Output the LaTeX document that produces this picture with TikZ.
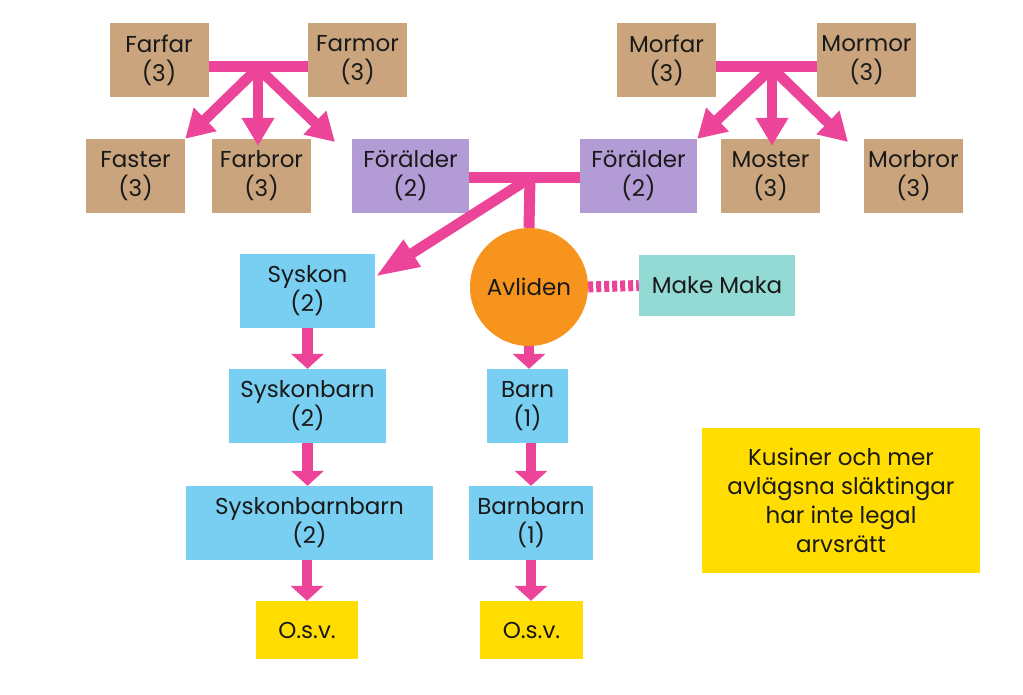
\documentclass[tikz,border=0pt]{standalone}
\usepackage{fontspec}
\setmainfont{Poppins}
\usepackage{tikz}
\usetikzlibrary{arrows.meta,positioning,calc}
\definecolor{Rosa}{HTML}{EC4499}
\definecolor{Brun}{HTML}{C9A47C}
\definecolor{Lila}{HTML}{B39BD6}
\definecolor{Ljusbla}{HTML}{79CFF2}
\definecolor{Apelsin}{HTML}{F7941D}
\definecolor{Turkos}{HTML}{92DAD3}
\definecolor{Gul}{HTML}{FFDD00}

\begin{document}
\begin{tikzpicture}[x=1pt,y=-1pt,
    ruta/.style={inner sep=0pt,align=center,text=black!90,
        font=\fontsize{23}{29}\selectfont,minimum height=74pt},
    brun/.style={ruta,fill=Brun,minimum width=99pt},
    lila/.style={ruta,fill=Lila,minimum width=117pt},
    bla/.style={ruta,fill=Ljusbla},
    gul/.style={ruta,fill=Gul},
    band/.style={Rosa,line width=11pt},
    pil/.style={Rosa,line width=10.5pt,-{Triangle[length=28pt,width=31pt]}},
    langpil/.style={Rosa,line width=10.5pt,-{Triangle[length=44pt,width=29pt]}},
    kortpil/.style={Rosa,line width=10.5pt,-{Triangle[length=15pt,width=32pt]}}]
    \path[fill=white] (0,0) rectangle (1023,694);

    % farsidan
    \node[brun] (farfar) at (159,60) {Farfar\\(3)};
    \node[brun] (farmor) at (357.5,60) {Farmor\\(3)};
    \node[brun] (faster) at (135.5,176) {Faster\\(3)};
    \node[brun] (farbror) at (261.5,176) {Farbror\\(3)};
    % morsidan
    \node[brun] (morfar) at (666.5,60) {Morfar\\(3)};
    \node[brun] (mormor) at (866.5,60) {Mormor\\(3)};
    \node[brun] (moster) at (770.5,176) {Moster\\(3)};
    \node[brun] (morbror) at (913.5,176) {Morbror\\(3)};
    % foraldrar
    \node[lila] (foralder1) at (410.5,176) {Förälder\\(2)};
    \node[lila] (foralder2) at (638.5,176) {Förälder\\(2)};

    \node[circle,fill=Apelsin,minimum size=118pt,inner sep=0pt,
        font=\fontsize{23}{29}\selectfont,text=black!90] (avliden) at (529,287) {Avliden};
    \node[ruta,fill=Turkos,minimum width=156pt,minimum height=61pt] (makemaka) at (717,285.5) {Make Maka};

    \node[bla,minimum width=135pt] (syskon) at (307.5,291) {Syskon\\(2)};
    \node[bla,minimum width=157pt] (syskonbarn) at (307.5,406) {Syskonbarn\\(2)};
    \node[bla,minimum width=247pt] (syskonbarnbarn) at (309.5,523) {Syskonbarnbarn\\(2)};
    \node[gul,minimum width=102pt,minimum height=58pt] (osv1) at (307,630) {O.s.v.};

    \node[bla,minimum width=81pt] (barn) at (527.5,406) {Barn\\(1)};
    \node[bla,minimum width=124pt] (barnbarn) at (531,523) {Barnbarn\\(1)};
    \node[gul,minimum width=103pt,minimum height=58pt] (osv2) at (531.5,630) {O.s.v.};

    \node[gul,minimum width=278pt,minimum height=145pt] (notis) at (841,500.5)
        {Kusiner och mer\\avlägsna släktingar\\har inte legal\\arvsrätt};

    % farsidans pilar
    \coordinate (farnav) at (258,68);
    \coordinate (farspets) at (335,142);
    \draw[band] ($(farfar.east)+(0,6)$) -- ($(farmor.west)+(0,6)$);
    \draw[pil] (farnav) -- (faster.north east);
    \draw[pil] (farnav) -- ($(farnav |- farbror.north)+(0,7)$);
    \draw[pil] (farnav) -- (farspets);
    % morsidans pilar
    \coordinate (mornav) at (772,68);
    \coordinate (morspets) at (848,142);
    \draw[band] ($(morfar.east)+(0,6)$) -- ($(mormor.west)+(0,6)$);
    \draw[pil] (mornav) -- (foralder2.north east);
    \draw[pil] (mornav) -- ($(mornav |- moster.north)+(0,7)$);
    \draw[pil] (mornav) -- (morspets);
    % foraldrar
    \coordinate (nav) at (530,178);
    \draw[band] ($(foralder1.east)+(0,1)$) -- ($(foralder2.west)+(0,1)$);
    \draw[band] (nav) -- (avliden.north);
    \draw[langpil] (nav) -- ($(syskon.north east)+(0,23)$);
    \draw[Rosa,line width=11pt,dash pattern=on 5pt off 3pt] (avliden.east) -- (makemaka.west);

    % nedat
    \draw[kortpil] (syskon.south) -- (syskonbarn.north);
    \draw[kortpil] (syskonbarn.south) -- (syskonbarn.south |- syskonbarnbarn.north);
    \draw[kortpil] (osv1.north |- syskonbarnbarn.south) -- (osv1.north);
    \draw[kortpil] (avliden.south) -- (avliden.south |- barn.north);
    \draw[kortpil] (barnbarn.north |- barn.south) -- (barnbarn.north);
    \draw[kortpil] (barnbarn.south) -- (barnbarn.south |- osv2.north);
\end{tikzpicture}
\end{document}
